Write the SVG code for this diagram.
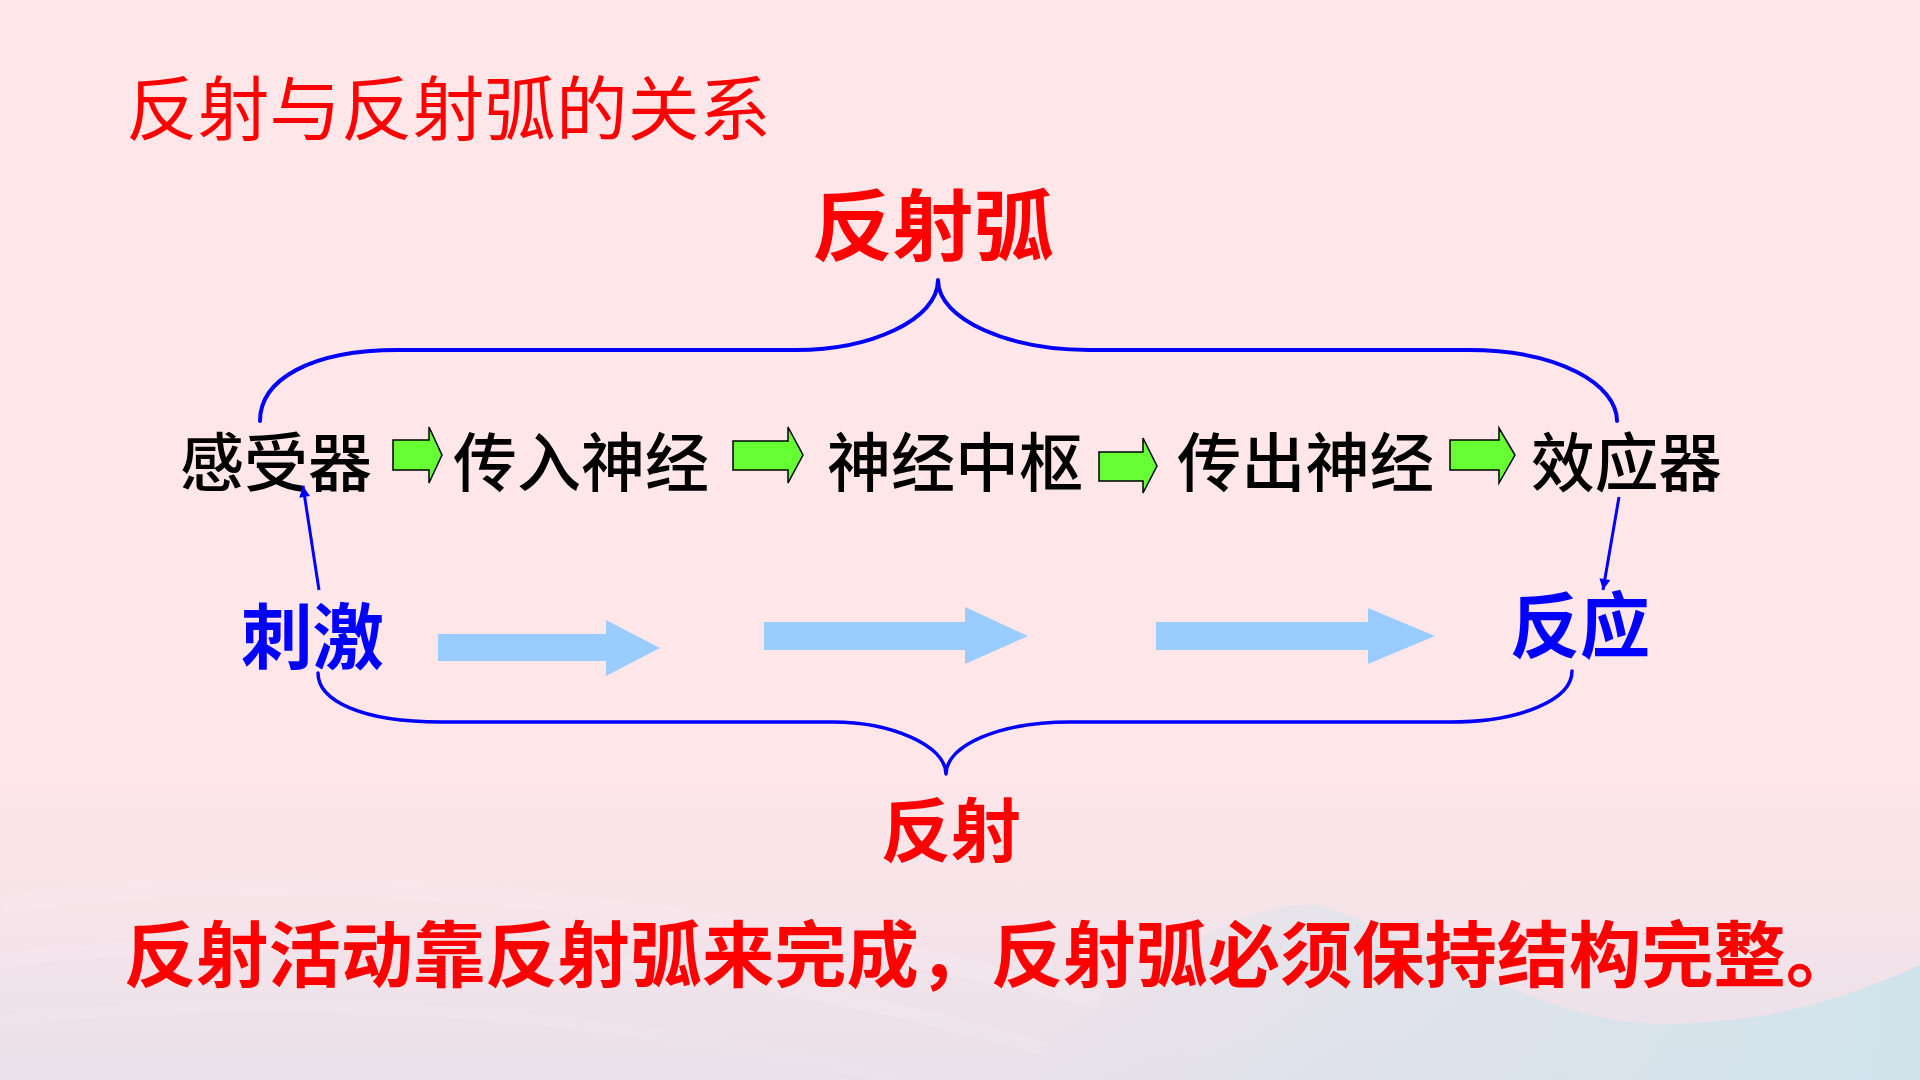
<svg xmlns="http://www.w3.org/2000/svg" width="1920" height="1080" viewBox="0 0 1920 1080">
  <defs>
    <style>
      .cjk { font-family: "Noto Sans CJK SC", "Noto Sans", sans-serif; }
      .red { fill: #FF0000; }
      .blue { fill: #0000FF; }
      .black { fill: #000000; font-weight: 500; }
      .bold { font-weight: 700; }
      .brace { fill: none; stroke: #0000FF; stroke-linecap: round; stroke-linejoin: round; }
      .thin { fill: none; stroke: #0000FF; stroke-width: 3; }
      .green { fill: #66FF33; stroke: #000000; stroke-width: 1.5; stroke-linejoin: miter; }
      .lightblue { fill: #99CCFF; }
    </style>
    <marker id="ah" viewBox="0 0 10 10" refX="10" refY="5" markerUnits="userSpaceOnUse" markerWidth="14" markerHeight="11" orient="auto">
      <path d="M0,0 L10,5 L0,10 Z" fill="#0000FF"/>
    </marker>
    <linearGradient id="bottomTint" x1="0" y1="0" x2="0" y2="1">
      <stop offset="0" stop-color="#ECE2EA" stop-opacity="0"/>
      <stop offset="1" stop-color="#E6E0EA" stop-opacity="0.9"/>
    </linearGradient>
    <linearGradient id="blueWave" x1="0" y1="0" x2="1" y2="0">
      <stop offset="0" stop-color="#D3E3EC" stop-opacity="0"/>
      <stop offset="0.45" stop-color="#D3E3EC" stop-opacity="0.55"/>
      <stop offset="1" stop-color="#D0E4EC" stop-opacity="1"/>
    </linearGradient>
  </defs>

  <g id="background">
    <rect x="0" y="0" width="1920" height="1080" fill="#FFE6E9"/>
    <rect x="0" y="760" width="1920" height="320" fill="url(#bottomTint)"/>
    <path d="M0 905 C 300 860, 700 900, 1100 1000" fill="none" stroke="#FFFFFF" stroke-opacity="0.1" stroke-width="18"/>
    <path d="M0 960 C 350 920, 700 950, 1050 1050" fill="none" stroke="#FFFFFF" stroke-opacity="0.1" stroke-width="14"/>
    <path d="M0 1020 C 300 990, 600 1010, 900 1080" fill="none" stroke="#FFFFFF" stroke-opacity="0.08" stroke-width="12"/>
    <path d="M1000 1080 C 1120 980, 1230 900, 1320 905 C 1440 945, 1540 1022, 1660 1024 C 1780 1024, 1860 992, 1920 965 L 1920 1080 Z" fill="url(#blueWave)"/>
  </g>

  <g id="title">
    <text class="cjk red" x="126" y="135" font-size="70" textLength="645" lengthAdjust="spacingAndGlyphs">反射与反射弧的关系</text>
  </g>

  <g id="reflex-arc-label">
    <text class="cjk red bold" x="812" y="255" font-size="78" textLength="242" lengthAdjust="spacingAndGlyphs">反射弧</text>
  </g>

  <g id="receptor">
    <text class="cjk black" x="180" y="486" font-size="64" textLength="192" lengthAdjust="spacingAndGlyphs">感受器</text>
  </g>
  <g id="afferent-nerve">
    <text class="cjk black" x="453" y="486" font-size="64" textLength="256" lengthAdjust="spacingAndGlyphs">传入神经</text>
  </g>
  <g id="nerve-center">
    <text class="cjk black" x="827" y="486" font-size="64" textLength="256" lengthAdjust="spacingAndGlyphs">神经中枢</text>
  </g>
  <g id="efferent-nerve">
    <text class="cjk black" x="1177" y="486" font-size="64" textLength="257" lengthAdjust="spacingAndGlyphs">传出神经</text>
  </g>
  <g id="effector">
    <text class="cjk black" x="1531" y="486" font-size="64" textLength="191" lengthAdjust="spacingAndGlyphs">效应器</text>
  </g>

  <g id="stimulus">
    <text class="cjk blue bold" x="241" y="663" font-size="72" textLength="143" lengthAdjust="spacingAndGlyphs">刺激</text>
  </g>
  <g id="response">
    <text class="cjk blue bold" x="1510" y="652" font-size="72" textLength="140" lengthAdjust="spacingAndGlyphs">反应</text>
  </g>

  <g id="reflex-label">
    <text class="cjk red bold" x="881" y="857" font-size="70" textLength="140" lengthAdjust="spacingAndGlyphs">反射</text>
  </g>

  <g id="conclusion">
    <text class="cjk red bold" x="124" y="981" font-size="72" textLength="1734" lengthAdjust="spacingAndGlyphs">反射活动靠反射弧来完成，反射弧必须保持结构完整。</text>
  </g>

  <g id="connectors">
    <path class="brace" stroke-width="4" d="M260 421 C 260 380, 310 350, 398 350 L 796 350 C 870 350, 938 320, 938 280 C 938 320, 1010 350, 1089 350 L 1468 350 C 1560 350, 1617 385, 1617 421"/>
    <path class="brace" stroke-width="3.5" d="M318 673 C 318 700, 360 722, 441 722 L 833 722 C 890 722, 946 745, 946 774 C 946 745, 1000 722, 1070 722 L 1450 722 C 1520 722, 1572 700, 1572 671"/>
    <polygon class="green" points="393,440 429,440 429,427 442,455 429,483 429,470 393,470"/>
    <polygon class="green" points="733,441 788,441 788,427 803,455 788,483 788,470 733,470"/>
    <polygon class="green" points="1099,452 1143,452 1143,438 1157,466 1143,493 1143,481 1099,481"/>
    <polygon class="green" points="1450,440 1499,440 1499,428 1515,455 1499,483 1499,470 1450,470"/>
    <line class="thin" x1="319" y1="590" x2="303" y2="486" marker-end="url(#ah)"/>
    <line class="thin" x1="1619" y1="497" x2="1603" y2="590" marker-end="url(#ah)"/>
    <polygon class="lightblue" points="438,634 606,634 606,620 660,648 606,676 606,661 438,661"/>
    <polygon class="lightblue" points="764,622 965,622 965,607 1028,636 965,664 965,650 764,650"/>
    <polygon class="lightblue" points="1156,622 1368,622 1368,608 1435,636 1368,664 1368,650 1156,650"/>
  </g>
</svg>
